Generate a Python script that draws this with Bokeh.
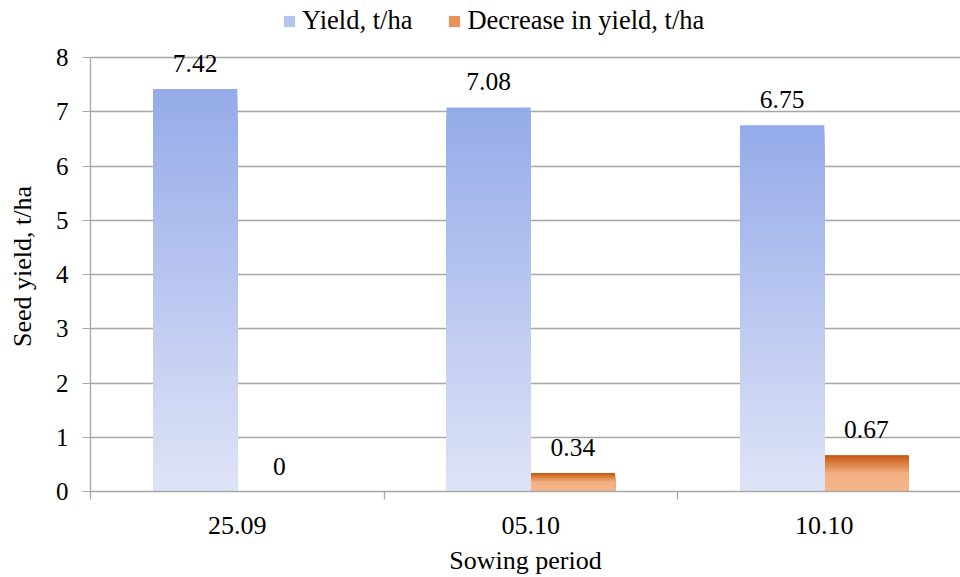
from bokeh.plotting import figure
from bokeh.layouts import column
from bokeh.models import (Range1d, FixedTicker, Legend, LegendItem, ColumnDataSource,
                          LabelSet)
from bokeh.core.properties import value
from bokeh.embed import file_html
from bokeh.resources import INLINE

# ---- data ----
categories = ["25.09", "05.10", "10.10"]
yield_t_ha = [7.42, 7.08, 6.75]
decrease_t_ha = [0, 0.34, 0.67]
yield_labels = ["7.42", "7.08", "6.75"]
decrease_labels = ["0", "0.34", "0.67"]
y_ticks = [0, 1, 2, 3, 4, 5, 6, 7, 8]
series_names = ["Yield, t/ha", "Decrease in yield, t/ha"]

FONT = "Liberation Serif, serif"
BAR_W = 0.287
N = 90
LEG_H = 38


def hex2rgb(h):
    h = h.lstrip("#")
    return [int(h[i:i + 2], 16) for i in (0, 2, 4)]


def lerp(c1, c2, t):
    a, b = hex2rgb(c1), hex2rgb(c2)
    return "#%02x%02x%02x" % tuple(int(round(a[i] + (b[i] - a[i]) * t)) for i in range(3))


def blue_color(f):  # f = 1 at top, 0 at bottom
    return lerp("#dfe4f7", "#95abe9", f)


def orange_color(f):  # f = 1 at top, 0 at bottom
    d = 1 - f  # distance from top
    if d < 0.5:
        return lerp("#c4580f", "#f4b183", d / 0.5)
    return lerp("#f4b183", "#f5b78b", (d - 0.5) / 0.5)


p = figure(width=960, height=577 - LEG_H, output_backend="svg", toolbar_location=None,
           x_range=Range1d(0, 2.964), y_range=Range1d(0, 8.295),
           min_border_left=90, min_border_right=0, min_border_top=3,
           min_border_bottom=86,
           background_fill_color="white", border_fill_color="white")
p.outline_line_color = None

centers = [i + 0.5 for i in range(len(categories))]

# gradient bars: stacked nested quads (darkest/top first)
for k in range(N):
    f = (N - k) / N
    p.quad(left=[c - BAR_W for c in centers], right=centers, bottom=0,
           top=[v * f for v in yield_t_ha], fill_color=blue_color(f), line_color=None)
    p.quad(left=centers, right=[c + BAR_W for c in centers], bottom=0,
           top=[v * f for v in decrease_t_ha], fill_color=orange_color(f), line_color=None)

# data labels
lab_src = ColumnDataSource(dict(
    x=[c - BAR_W / 2 for c in centers] + [c + BAR_W / 2 for c in centers],
    y=yield_t_ha + decrease_t_ha,
    t=yield_labels + decrease_labels))
labels = LabelSet(x="x", y="y", text="t", source=lab_src, y_offset=17,
                  text_align="center", text_baseline="alphabetic",
                  text_font=value(FONT), text_font_size=value("25.5px"), text_color="black")
p.add_layout(labels)

# axes
p.yaxis.ticker = FixedTicker(ticks=y_ticks)
p.yaxis.bounds = (y_ticks[0], y_ticks[-1])
p.yaxis.major_tick_out = 8
p.yaxis.major_tick_in = 0
p.yaxis.minor_tick_line_color = None
p.yaxis.axis_line_color = "#a6a6a6"
p.yaxis.major_tick_line_color = "#a6a6a6"
p.yaxis.axis_line_width = 1.3
p.yaxis.major_label_standoff = 14
p.yaxis.axis_label = "Seed yield, t/ha"
p.yaxis.axis_label_standoff = 16

p.xaxis.ticker = FixedTicker(ticks=centers, minor_ticks=[0, 1, 2, 3])
p.xaxis.major_label_overrides = {c: lab for c, lab in zip(centers, categories)}
p.xaxis.major_tick_line_color = None
p.xaxis.major_tick_out = 0
p.xaxis.minor_tick_out = 8
p.xaxis.minor_tick_in = 0
p.xaxis.minor_tick_line_color = "#a6a6a6"
p.xaxis.minor_tick_line_width = 1.3
p.xaxis.axis_line_color = "#a6a6a6"
p.xaxis.axis_line_width = 1.3
p.xaxis.major_label_standoff = 17
p.xaxis.axis_label = "Sowing period"
p.xaxis.axis_label_standoff = 9

for ax in (p.xaxis[0], p.yaxis[0]):
    ax.major_label_text_font = FONT
    ax.major_label_text_color = "black"
    ax.axis_label_text_font = FONT
    ax.axis_label_text_font_size = "26px"
    ax.axis_label_text_font_style = "normal"
    ax.axis_label_text_color = "black"
p.yaxis.major_label_text_font_size = "25px"
p.xaxis.major_label_text_font_size = "26px"

p.xgrid.grid_line_color = None
p.ygrid.grid_line_color = "#a6a6a6"
p.ygrid.grid_line_width = 1.3
p.ygrid.ticker = FixedTicker(ticks=y_ticks)

# legend strip (separate small figure above the chart)
lg = figure(width=960, height=LEG_H, output_backend="svg", toolbar_location=None,
            x_range=Range1d(0, 1), y_range=Range1d(0, 1),
            min_border_left=0, min_border_right=0, min_border_top=0, min_border_bottom=0,
            background_fill_color="white", border_fill_color="white")
lg.outline_line_color = None
lg.axis.visible = False
lg.grid.visible = False
r_blue = lg.quad(left=[0], right=[0], bottom=[0], top=[0], fill_color="#b4c3f0", line_color=None)
r_orng = lg.quad(left=[0], right=[0], bottom=[0], top=[0], fill_color="#e8925a", line_color=None)
legend = Legend(items=[LegendItem(label=series_names[0], renderers=[r_blue]),
                       LegendItem(label=series_names[1], renderers=[r_orng])],
                orientation="horizontal", location=(192, 2),
                glyph_width=14, glyph_height=14, label_standoff=6, spacing=35,
                padding=0, margin=0, border_line_color=None, background_fill_alpha=0,
                label_text_font=FONT, label_text_font_size="26.5px", label_text_color="black")
lg.add_layout(legend, "center")

layout = column(lg, p, spacing=0)
open("out.html", "w").write(file_html(layout, INLINE))
